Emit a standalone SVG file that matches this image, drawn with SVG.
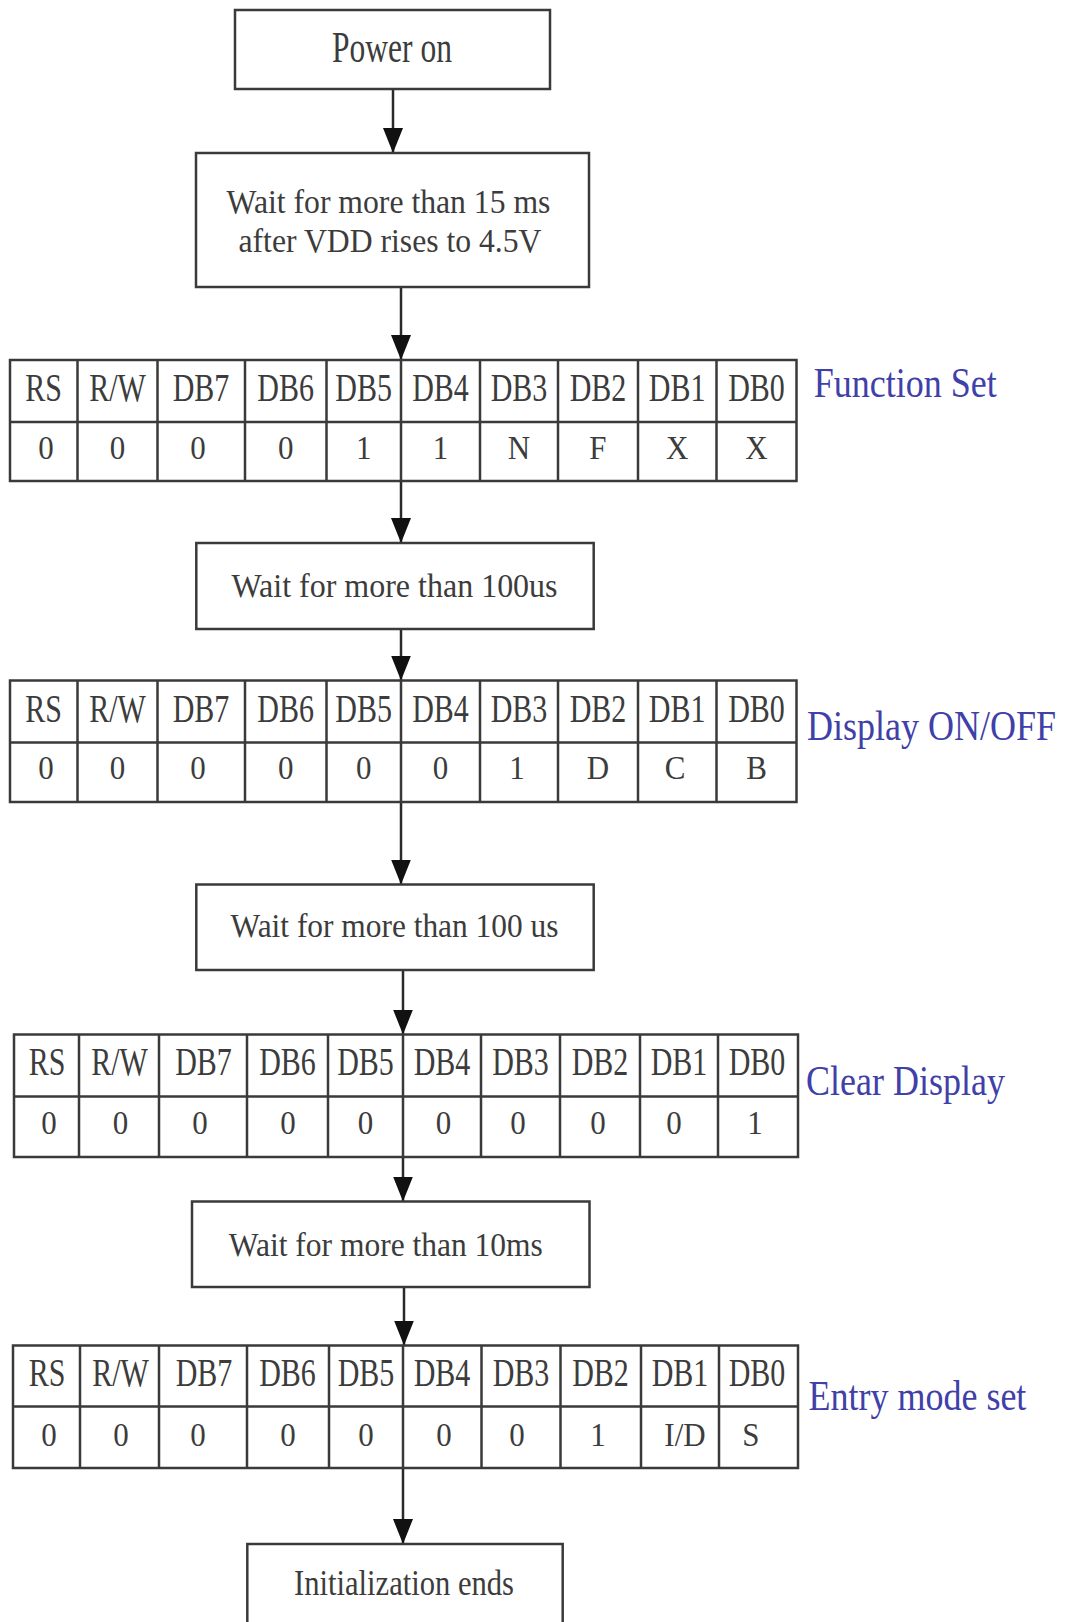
<svg xmlns="http://www.w3.org/2000/svg" width="1065" height="1622" viewBox="0 0 1065 1622">
<style>
.box{fill:#fff;stroke:#3a3a3a;stroke-width:2.5}
.grid{fill:none;stroke:#3a3a3a;stroke-width:2.5}
.t{font-family:"Liberation Serif","Times New Roman",serif;fill:#3c3c3c;text-anchor:middle}
.h{font-size:30px}
.v{font-size:31px}
.lbl{font-family:"Liberation Serif","Times New Roman",serif;fill:#4040a8;font-size:36px}
.conn{stroke:#2a2a2a;stroke-width:2.5;fill:none;marker-end:url(#ah)}
</style>
<defs>
<marker id="ah" markerUnits="userSpaceOnUse" viewBox="0 -11 26 22" refX="25" refY="0" markerWidth="26" markerHeight="22" orient="auto">
<path d="M0,-10 L25,0 L0,10 z" fill="#111"/>
</marker>
</defs>
<rect width="1065" height="1622" fill="#fff"/>

<g id="connectors">
<line class="conn" x1="393" y1="89" x2="393" y2="153"/>
<line class="conn" x1="401" y1="287" x2="401" y2="360"/>
<line class="conn" x1="401" y1="481" x2="401" y2="543"/>
<line class="conn" x1="401" y1="629" x2="401" y2="680.5"/>
<line class="conn" x1="401" y1="802" x2="401" y2="884.5"/>
<line class="conn" x1="403" y1="970" x2="403" y2="1034.5"/>
<line class="conn" x1="403" y1="1157" x2="403" y2="1201.5"/>
<line class="conn" x1="404" y1="1287" x2="404" y2="1345.5"/>
<line class="conn" x1="403" y1="1468" x2="403" y2="1544"/>
</g>

<g id="power-on">
<rect class="box" x="235" y="10" width="315" height="79"/>
<text class="t" font-size="31.5" transform="translate(392,62) scale(1,1.4)">Power on</text>
</g>

<g id="wait-15ms">
<rect class="box" x="196" y="153" width="393" height="134"/>
<text class="t" font-size="31.7" transform="translate(388.5,213.3) scale(1,1.07)">Wait for more than 15 ms</text>
<text class="t" font-size="31.7" transform="translate(390,251.7) scale(1,1.07)">after VDD rises to 4.5V</text>
</g>

<g id="function-set">
<rect class="grid" x="10" y="360" width="786.5" height="121"/>
<path class="grid" d="M10,422H796.5M77.5,360V481M157.5,360V481M245,360V481M326.5,360V481M401,360V481M480,360V481M558,360V481M638,360V481M716.5,360V481"/>
<g class="t h" transform="translate(0,401) scale(1,1.35)">
<text x="43.7">RS</text><text x="117.5">R/W</text><text x="201">DB7</text><text x="285.7">DB6</text><text x="363.7">DB5</text><text x="440.5">DB4</text><text x="519">DB3</text><text x="598">DB2</text><text x="677.2">DB1</text><text x="756.5">DB0</text>
</g>
<g class="t v" transform="translate(0,459) scale(1,1.12)">
<text x="46">0</text><text x="117.5">0</text><text x="198">0</text><text x="285.7">0</text><text x="363.7">1</text><text x="440.5">1</text><text x="519">N</text><text x="598">F</text><text x="677.2">X</text><text x="756.5">X</text>
</g>
<text class="lbl" transform="translate(813.7,397) scale(1,1.16)">Function Set</text>
</g>

<g id="wait-100us-1">
<rect class="box" x="196.3" y="543" width="397.4" height="86"/>
<text class="t" font-size="32" transform="translate(394.5,596.5) scale(1,1.05)">Wait for more than 100us</text>
</g>

<g id="display-onoff">
<rect class="grid" x="10" y="680.5" width="786.5" height="121.5"/>
<path class="grid" d="M10,742.5H796.5M77.5,680.5V802M157.5,680.5V802M245,680.5V802M326.5,680.5V802M401,680.5V802M480,680.5V802M558,680.5V802M638,680.5V802M716.5,680.5V802"/>
<g class="t h" transform="translate(0,722) scale(1,1.35)">
<text x="43.7">RS</text><text x="117.5">R/W</text><text x="201">DB7</text><text x="285.7">DB6</text><text x="363.7">DB5</text><text x="440.5">DB4</text><text x="519">DB3</text><text x="598">DB2</text><text x="677.2">DB1</text><text x="756.5">DB0</text>
</g>
<g class="t v" transform="translate(0,779) scale(1,1.12)">
<text x="46">0</text><text x="117.5">0</text><text x="198">0</text><text x="285.7">0</text><text x="363.7">0</text><text x="440.5">0</text><text x="517">1</text><text x="598">D</text><text x="675">C</text><text x="756.5">B</text>
</g>
<text class="lbl" transform="translate(807,740) scale(1,1.16)">Display ON/OFF</text>
</g>

<g id="wait-100us-2">
<rect class="box" x="196.3" y="884.5" width="397.4" height="85.5"/>
<text class="t" font-size="31.4" transform="translate(394.5,937) scale(1,1.05)">Wait for more than 100 us</text>
</g>

<g id="clear-display">
<rect class="grid" x="14" y="1034.5" width="784" height="122.5"/>
<path class="grid" d="M14,1096.5H798M79,1034.5V1157M159,1034.5V1157M247,1034.5V1157M328,1034.5V1157M403,1034.5V1157M481,1034.5V1157M560,1034.5V1157M640,1034.5V1157M718,1034.5V1157"/>
<g class="t h" transform="translate(0,1075) scale(1,1.35)">
<text x="47">RS</text><text x="119.5">R/W</text><text x="203.5">DB7</text><text x="287.5">DB6</text><text x="365.5">DB5</text><text x="442">DB4</text><text x="520.5">DB3</text><text x="600">DB2</text><text x="679">DB1</text><text x="757">DB0</text>
</g>
<g class="t v" transform="translate(0,1134) scale(1,1.12)">
<text x="49">0</text><text x="120.5">0</text><text x="200">0</text><text x="288">0</text><text x="365.5">0</text><text x="443.5">0</text><text x="518">0</text><text x="598">0</text><text x="674">0</text><text x="755">1</text>
</g>
<text class="lbl" transform="translate(806,1095) scale(1,1.2)">Clear Display</text>
</g>

<g id="wait-10ms">
<rect class="box" x="192" y="1201.5" width="397.5" height="85.5"/>
<text class="t" font-size="31.5" transform="translate(385.8,1256) scale(1,1.05)">Wait for more than 10ms</text>
</g>

<g id="entry-mode-set">
<rect class="grid" x="13" y="1345.5" width="785" height="122.5"/>
<path class="grid" d="M13,1406.5H798M80,1345.5V1468M159,1345.5V1468M247,1345.5V1468M329,1345.5V1468M403,1345.5V1468M481.5,1345.5V1468M560.5,1345.5V1468M641,1345.5V1468M719,1345.5V1468"/>
<g class="t h" transform="translate(0,1386) scale(1,1.35)">
<text x="47">RS</text><text x="120.5">R/W</text><text x="204">DB7</text><text x="287.5">DB6</text><text x="366">DB5</text><text x="442">DB4</text><text x="521">DB3</text><text x="600.5">DB2</text><text x="680">DB1</text><text x="757">DB0</text>
</g>
<g class="t v" transform="translate(0,1445.5) scale(1,1.12)">
<text x="49">0</text><text x="121">0</text><text x="198">0</text><text x="288">0</text><text x="366">0</text><text x="444">0</text><text x="517">0</text><text x="598">1</text><text x="685">I/D</text><text x="751">S</text>
</g>
<text class="lbl" transform="translate(808.5,1410) scale(1,1.16)">Entry mode set</text>
</g>

<g id="initialization-ends">
<rect class="box" x="247.3" y="1544" width="315.4" height="84"/>
<text class="t" font-size="30.6" transform="translate(404,1595) scale(1,1.2)">Initialization ends</text>
</g>
</svg>
